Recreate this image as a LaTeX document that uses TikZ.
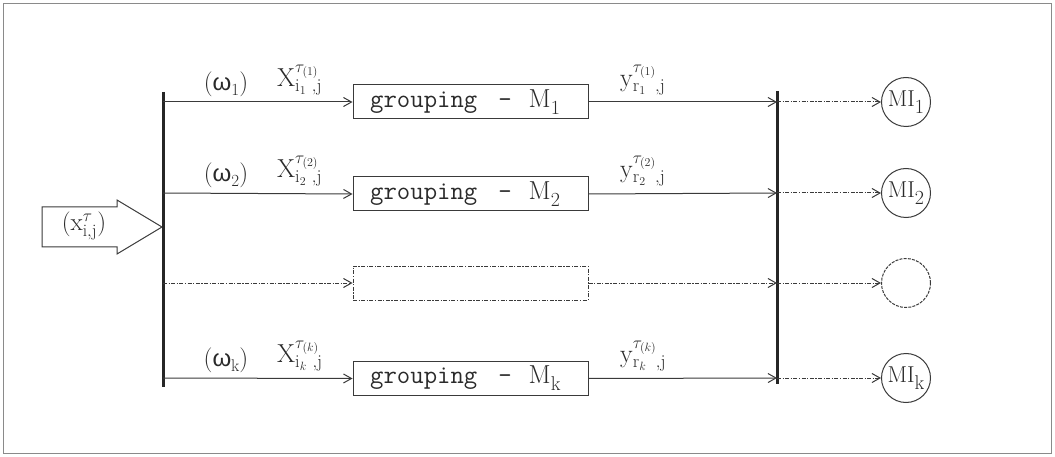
\documentclass[tikz,border=0pt]{standalone}
\usepackage{fontspec}
\usetikzlibrary{arrows.meta}
\newfontfamily\grkfont{Liberation Sans}
\definecolor{linec}{HTML}{3A3A3A}
\definecolor{textc}{HTML}{2A2A2A}
\definecolor{framec}{HTML}{8A8A8A}
\newcommand\Xlab[1]{$\mathrm{X}^{\tau_{(#1)}}_{\mathrm{i}_{#1}\,\,,\mathrm{j}}$}
\newcommand\Ylab[1]{$\mathrm{y}^{\tau_{(#1)}}_{\mathrm{r}_{#1}\;\;,\mathrm{j}}$}
\newcommand\Wlab[1]{({\grkfont\fontsize{24}{26}\selectfont ω}\raisebox{-5pt}{\fontsize{17}{17}\selectfont #1})}
\newcommand\Glab[1]{{\ttfamily grouping}\hspace{21pt}{\ttfamily -}\hspace{17pt}$\mathrm{M}$\raisebox{-7pt}{\fontsize{20}{20}\selectfont #1}}
\newcommand\MIlab[1]{MI\raisebox{-7pt}{\fontsize{20}{20}\selectfont #1}}
\begin{document}
\begin{tikzpicture}[x=1pt,y=-1pt,
  arr/.style={-{Straight Barb[length=8pt,width=9pt]}},
  solidline/.style={draw=linec, line width=1pt},
  dotline/.style={draw=linec, line width=1pt, dash pattern=on 4pt off 1.5pt on 1.2pt off 1.5pt},
  bar/.style={draw=black!85, line width=3pt},
  gbox/.style={draw=linec, line width=1pt, minimum width=235pt, minimum height=34pt, inner sep=0pt},
  gtext/.style={anchor=west, inner sep=0pt, text=textc, font=\fontsize{26}{28}\selectfont},
  mic/.style={circle, draw=linec, line width=1pt, minimum size=49pt, inner sep=0pt, text=textc, font=\fontsize{23}{25}\selectfont},
  lab/.style={inner sep=0pt, text=textc, font=\fontsize{25}{27}\selectfont},
  sublab/.style={inner sep=0pt, anchor=west, text=textc, font=\fontsize{26}{28}\selectfont}]
\useasboundingbox (0,0) rectangle (1055,457);
\draw[framec, line width=1pt] (3.5,3.5) rectangle (1051.5,453.5);

% input block arrow
\draw[linec, line width=1pt, fill=white] (42,207) -- (117,207) -- (117,200) -- (162,227) -- (117,254) -- (117,247) -- (42,247) -- cycle;
\node[lab] (inlab) at (84,226) {$(\mathrm{x}^{\tau}_{\mathrm{i},\mathrm{j}})$};

% bars
\coordinate (lbt) at (163,92);
\coordinate (lbb) at (163,387);
\coordinate (rbt) at (777,91);
\coordinate (rbb) at (777,384);
\draw[bar] (lbt) -- (lbb);
\draw[bar] (rbt) -- (rbb);

% bar junctions
\coordinate (L1) at (163,102);
\coordinate (L2) at (163,193);
\coordinate (L3) at (163,283);
\coordinate (Lk) at (163,378);
\coordinate (R1) at (777,102);
\coordinate (R2) at (777,193);
\coordinate (R3) at (777,283);
\coordinate (Rk) at (777,378);

% boxes
\node[gbox] (b1) at (470.5,102) {};
\node[gbox] (b2) at (470.5,194) {};
\node[gbox, dotline] (b3) at (470.5,283) {};
\node[gbox] (bk) at (470.5,378.5) {};
\node[gtext] (g1) at (370,102) {\Glab{1}};
\node[gtext] (g2) at (370,194) {\Glab{2}};
\node[gtext] (gk) at (370,378.5) {\Glab{k}};

% circles
\node[mic] (c1) at (906,102) {\MIlab{1}};
\node[mic] (c2) at (906,193) {\MIlab{2}};
\node[mic, dash pattern=on 3pt off 1.2pt] (c3) at (906,283) {};
\node[mic] (ck) at (906,378) {\MIlab{k}};

% connectors
\draw[solidline, arr] (L1) -- (b1.west);
\draw[solidline, arr] (L2) -- (b2.west);
\draw[dotline, arr] (L3) -- (b3.west);
\draw[solidline, arr] (Lk) -- (bk.west);
\draw[solidline, arr] (b1.east) -- (R1);
\draw[solidline, arr] (b2.east) -- (R2);
\draw[dotline, arr] (b3.east) -- (R3);
\draw[solidline, arr] (bk.east) -- (Rk);
\draw[dotline, arr] (R1) -- (c1.west);
\draw[dotline, arr] (R2) -- (c2.west);
\draw[dotline, arr] (R3) -- (c3.west);
\draw[dotline, arr] (Rk) -- (ck.west);

% labels
\node[lab] (w1) at (226,84) {\Wlab{1}};
\node[lab] (w2) at (226,175) {\Wlab{2}};
\node[lab] (wk) at (226,360) {\Wlab{k}};
\node[sublab] (x1) at (277,80) {\Xlab{1}};
\node[sublab] (x2) at (277,171) {\Xlab{2}};
\node[sublab] (xk) at (277,356) {\Xlab{k}};
\node[sublab] (y1) at (620,80) {\Ylab{1}};
\node[sublab] (y2) at (620,171) {\Ylab{2}};
\node[sublab] (yk) at (620,356) {\Ylab{k}};
\end{tikzpicture}
\end{document}
